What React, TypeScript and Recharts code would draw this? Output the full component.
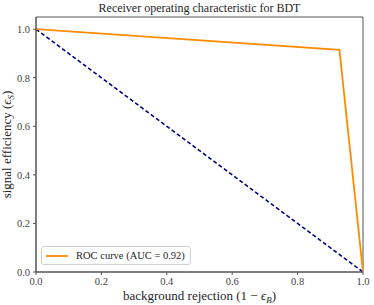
import React from 'react';
import { LineChart, Line, XAxis, YAxis, ReferenceArea } from 'recharts';

const rocFpr = [0, 0.928, 1];
const rocTpr = [1, 0.915, 0];
const diagX = [0, 1];
const diagY = [1, 0];
const xTicks = [0, 0.2, 0.4, 0.6, 0.8, 1.0];
const yTicks = [0, 0.2, 0.4, 0.6, 0.8, 1.0];

const rocData = rocFpr.map((x, i) => ({ x, y: rocTpr[i] }));
const diagData = diagX.map((x, i) => ({ x, y: diagY[i] }));

const FONT = '"Liberation Serif", serif';

const XLabel = (props: any) => {
  const vb = props.viewBox || {};
  const cx = vb.x + vb.width / 2;
  return (
    <text x={cx} y={vb.y + 28} textAnchor="middle" fontFamily={FONT} fontSize={13} fill="#262626">
      background rejection (1 − <tspan fontStyle="italic">ϵ</tspan>
      <tspan fontSize={9} fontStyle="italic" dy={3}>B</tspan>
      <tspan dy={-3}>)</tspan>
    </text>
  );
};

const YLabel = (props: any) => {
  const vb = props.viewBox || {};
  const cy = vb.y + vb.height / 2;
  return (
    <text x={11} y={cy} transform={`rotate(-90 11 ${cy})`} textAnchor="middle" fontFamily={FONT} fontSize={13} fill="#262626">
      signal efficiency (<tspan fontStyle="italic">ϵ</tspan>
      <tspan fontSize={9} fontStyle="italic" dy={3}>S</tspan>
      <tspan dy={-3}>)</tspan>
    </text>
  );
};

const XTick = (props: any) => (
  <text x={props.x} y={props.y + 8} textAnchor="middle" fontFamily={FONT} fontSize={10.5} fill="#444">
    {Number(props.payload.value).toFixed(1)}
  </text>
);

const YTick = (props: any) => (
  <text x={props.x - 1} y={props.y + 4} textAnchor="end" fontFamily={FONT} fontSize={10.5} fill="#444">
    {Number(props.payload.value).toFixed(1)}
  </text>
);

export default function App() {
  return (
    <div style={{ position: 'absolute', left: 0, top: 0, width: 374, height: 305, background: '#fff', fontFamily: FONT }}>
      <div
        style={{
          position: 'absolute',
          left: 36,
          width: 327,
          top: 1,
          textAlign: 'center',
          fontFamily: FONT,
          fontSize: 12,
          color: '#262626',
        }}
      >
        Receiver operating characteristic for BDT
      </div>
      <LineChart width={374} height={305} margin={{ top: 17, right: 11, bottom: 0, left: 0 }}>
        <XAxis
          type="number"
          dataKey="x"
          domain={[0, 1]}
          ticks={xTicks}
          tick={<XTick />}
          tickSize={3}
          stroke="#555"
          height={33}
          allowDataOverflow
          label={<XLabel />}
        />
        <YAxis
          type="number"
          dataKey="y"
          domain={[0, 1.05]}
          ticks={yTicks}
          tick={<YTick />}
          tickSize={3}
          stroke="#555"
          width={36}
          allowDataOverflow
          label={<YLabel />}
        />
        <ReferenceArea x1={0} x2={1} y1={0} y2={1.05} fill="none" stroke="#555" strokeWidth={1} ifOverflow="visible" />
        <Line
          data={diagData}
          dataKey="y"
          stroke="#000080"
          strokeWidth={1.6}
          strokeDasharray="4 2.5"
          dot={false}
          isAnimationActive={false}
        />
        <Line
          data={rocData}
          dataKey="y"
          stroke="#ff8c00"
          strokeWidth={1.8}
          dot={false}
          isAnimationActive={false}
          name="ROC curve (AUC = 0.92)"
        />
      </LineChart>
      <div
        style={{
          position: 'absolute',
          left: 41,
          top: 246,
          border: '1px solid #d0d0d0',
          borderRadius: 3,
          background: 'rgba(255,255,255,0.8)',
          padding: '3px 5px 3px 4px',
          display: 'flex',
          alignItems: 'center',
          fontFamily: FONT,
          fontSize: 10.5,
          color: '#262626',
          whiteSpace: 'nowrap',
        }}
      >
        <svg width={22} height={6} style={{ marginRight: 8 }}>
          <line x1={0} y1={3} x2={22} y2={3} stroke="#ff8c00" strokeWidth={1.8} />
        </svg>
        ROC curve (AUC = 0.92)
      </div>
    </div>
  );
}
